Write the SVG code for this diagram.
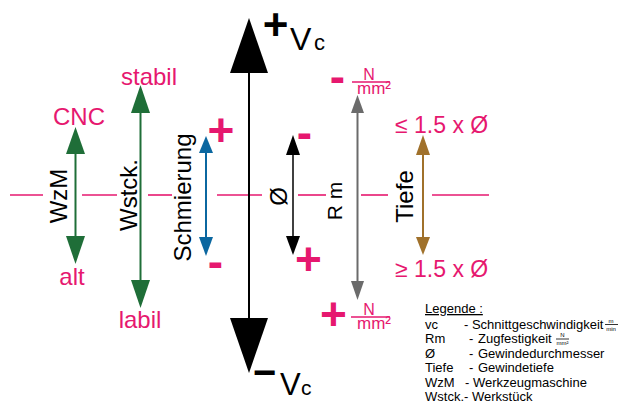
<svg xmlns="http://www.w3.org/2000/svg" width="629" height="405" viewBox="0 0 629 405">
<style>
text{font-family:"Liberation Sans",Arial,sans-serif}
.mg{fill:#e6186f}
.sym{font-weight:bold}
.lbl{font-size:24px}
.leg{font-size:13px;fill:#000}
.fr{font-size:6px;fill:#000}
.cl{stroke:#e6186f;stroke-width:1.6;fill:none}
.frl{stroke:#e6186f;stroke-width:1.3}
</style>
<rect width="629" height="405" fill="#fff"/>
<g id="centerline" class="cl">
<line x1="10" y1="195" x2="43" y2="195"/>
<line x1="82" y1="195" x2="117" y2="195"/>
<line x1="148" y1="195" x2="172" y2="195"/>
<line x1="217" y1="195" x2="262" y2="195"/>
<line x1="298" y1="195" x2="326" y2="195"/>
<line x1="361" y1="195" x2="388" y2="195"/>
<line x1="432" y1="195" x2="489" y2="195"/>
</g>
<g id="connectors">
<g id="arrow-vc">
<line x1="249" y1="70" x2="249" y2="320" stroke="#000" stroke-width="2"/>
<polygon points="249,18 230,73 268,73" fill="#000"/>
<polygon points="230,318 268,318 249,373" fill="#000"/>
</g>
<g id="arrow-wzm" fill="#1f6e38">
<line x1="75.5" y1="150" x2="75.5" y2="240" stroke="#1f6e38" stroke-width="2"/>
<polygon points="75.5,127 66,154 85,154"/>
<polygon points="66,236 85,236 75.5,264"/>
</g>
<g id="arrow-wstck" fill="#1f6e38">
<line x1="140.5" y1="110" x2="140.5" y2="284" stroke="#1f6e38" stroke-width="2"/>
<polygon points="140.5,85 131,113 150,113"/>
<polygon points="131,280 150,280 140.5,308"/>
</g>
<g id="arrow-schmierung" fill="#0b67a0">
<line x1="206" y1="150" x2="206" y2="240" stroke="#0b67a0" stroke-width="2"/>
<polygon points="206,136 199,153 213,153"/>
<polygon points="199,237 213,237 206,256"/>
</g>
<g id="arrow-d" fill="#000">
<line x1="293" y1="150" x2="293" y2="240" stroke="#000" stroke-width="1.5"/>
<polygon points="293,135 286,155 300,155"/>
<polygon points="286,236 300,236 293,255"/>
</g>
<g id="arrow-rm" fill="#6b6b6b">
<line x1="357.5" y1="110" x2="357.5" y2="284" stroke="#6b6b6b" stroke-width="2"/>
<polygon points="357.5,95 351,113 364,113"/>
<polygon points="351,281 364,281 357.5,300"/>
</g>
<g id="arrow-tiefe" fill="#a0712b">
<line x1="423" y1="150" x2="423" y2="240" stroke="#a0712b" stroke-width="2"/>
<polygon points="423,135 416,155 430,155"/>
<polygon points="416,237 430,237 423,255"/>
</g>
</g>
<g id="node-vc">
<text class="sym" x="275.5" y="40" font-size="44" text-anchor="middle">+</text>
<text x="290" y="50" font-size="32">V</text>
<text x="314" y="50" font-size="22">c</text>
<text class="sym" x="264.5" y="386" font-size="40" text-anchor="middle">−</text>
<text x="280" y="395" font-size="31">V</text>
<text x="301" y="395" font-size="21">c</text>
</g>
<g id="node-wzm">
<text class="mg lbl" x="79" y="125" text-anchor="middle">CNC</text>
<text class="mg lbl" x="72" y="285" text-anchor="middle">alt</text>
<text class="lbl" transform="translate(67,196) rotate(-90)" text-anchor="middle">WzM</text>
</g>
<g id="node-wstck">
<text class="mg lbl" x="149" y="85" text-anchor="middle">stabil</text>
<text class="mg lbl" x="140" y="328" text-anchor="middle">labil</text>
<text class="lbl" transform="translate(137,195) rotate(-90)" text-anchor="middle">Wstck.</text>
</g>
<g id="node-schmierung">
<text class="lbl" transform="translate(190.5,197.5) rotate(-90)" text-anchor="middle">Schmierung</text>
<text class="mg sym" x="221" y="146" font-size="46" text-anchor="middle">+</text>
<text class="mg sym" x="215.5" y="277" font-size="46" text-anchor="middle">-</text>
</g>
<g id="node-d">
<text class="lbl" transform="translate(287,196.5) rotate(-90)" text-anchor="middle">Ø</text>
<text class="mg sym" x="304.5" y="148" font-size="46" text-anchor="middle">-</text>
<text class="mg sym" x="308.5" y="275" font-size="46" text-anchor="middle">+</text>
</g>
<g id="node-rm">
<text transform="translate(342,201) rotate(-90)" font-size="21" text-anchor="middle">R<tspan dx="6">m</tspan></text>
<text class="mg sym" x="337.5" y="92" font-size="46" text-anchor="middle">-</text>
<text class="mg" x="369" y="79.5" font-size="16" text-anchor="middle">N</text>
<line class="frl" x1="352" y1="82" x2="390" y2="82"/>
<text class="mg" x="357" y="93.5" font-size="17">mm²</text>
<text class="mg sym" x="333.5" y="330" font-size="46" text-anchor="middle">+</text>
<text class="mg" x="369" y="314.5" font-size="16" text-anchor="middle">N</text>
<line class="frl" x1="351" y1="317" x2="390" y2="317"/>
<text class="mg" x="357" y="328.5" font-size="17">mm²</text>
</g>
<g id="node-tiefe">
<text class="lbl" transform="translate(413,196.5) rotate(-90)" text-anchor="middle">Tiefe</text>
<text class="mg" x="395" y="133" font-size="23">≤ 1.5 x Ø</text>
<text class="mg" x="395" y="277" font-size="23">≥ 1.5 x Ø</text>
</g>
<g id="legend">
<text class="leg" x="425" y="313" text-decoration="underline">Legende :</text>
<text class="leg" x="425" y="328.5">vc</text>
<text class="leg" x="464" y="328.5">- Schnittgeschwindigkeit</text>
<text class="fr" x="611" y="322.5" text-anchor="middle">m</text>
<line x1="605" y1="324.5" x2="618" y2="324.5" stroke="#000" stroke-width="0.8"/>
<text class="fr" x="611" y="330.5" text-anchor="middle">min</text>
<text class="leg" x="425" y="343">Rm</text>
<text class="leg" x="469" y="343">-</text>
<text class="leg" x="478" y="343">Zugfestigkeit</text>
<text class="fr" x="562.5" y="337" text-anchor="middle">N</text>
<line x1="556" y1="339" x2="569" y2="339" stroke="#000" stroke-width="0.8"/>
<text class="fr" x="562.5" y="345" text-anchor="middle">mm²</text>
<text class="leg" x="425" y="357.5">Ø</text>
<text class="leg" x="469" y="357.5">-</text>
<text class="leg" x="478" y="357.5">Gewindedurchmesser</text>
<text class="leg" x="425" y="372">Tiefe</text>
<text class="leg" x="469" y="372">-</text>
<text class="leg" x="478" y="372">Gewindetiefe</text>
<text class="leg" x="425" y="386.5">WzM</text>
<text class="leg" x="465" y="386.5">- Werkzeugmaschine</text>
<text class="leg" x="425" y="401">Wstck.</text>
<text class="leg" x="464" y="401">- Werkstück</text>
</g>
</svg>
